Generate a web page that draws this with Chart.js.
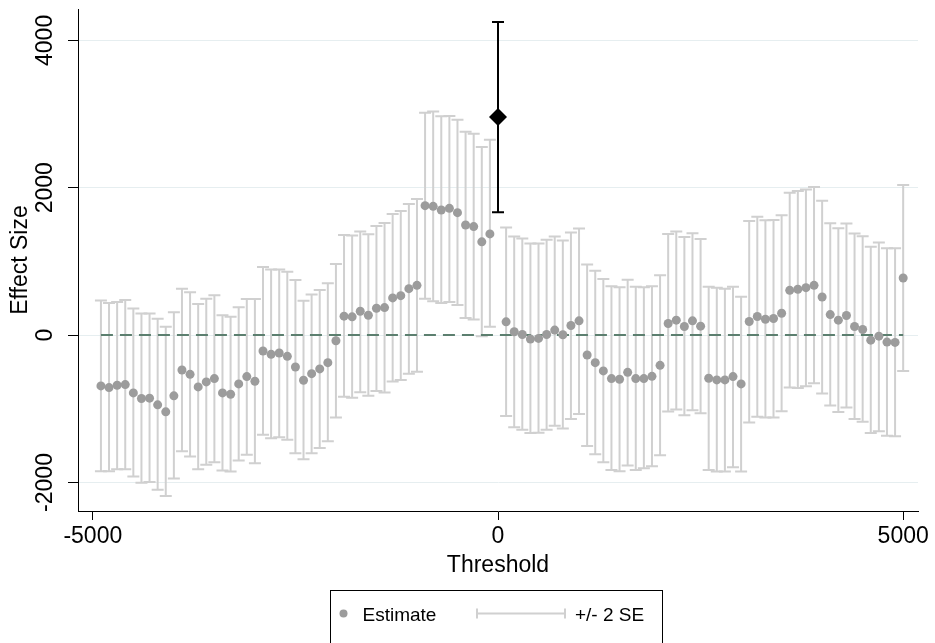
<!DOCTYPE html>
<html>
<head>
<meta charset="utf-8">
<script src="https://cdn.jsdelivr.net/npm/chart.js@4.4.1/dist/chart.umd.min.js"></script>
<style>
html,body{margin:0;padding:0;background:#fff;}
#wrap{width:935px;height:643px;position:relative;}
</style>
</head>
<body>
<div id="wrap"><canvas id="c"></canvas></div>
<script>
// ---------- data ----------
const thresholds = [
  -4900,-4800,-4700,-4600,-4500,-4400,-4300,-4200,-4100,-4000,
  -3900,-3800,-3700,-3600,-3500,-3400,-3300,-3200,-3100,-3000,
  -2900,-2800,-2700,-2600,-2500,-2400,-2300,-2200,-2100,-2000,
  -1900,-1800,-1700,-1600,-1500,-1400,-1300,-1200,-1100,-1000,
  -900,-800,-700,-600,-500,-400,-300,-200,-100,
  100,200,300,400,500,600,700,800,900,1000,
  1100,1200,1300,1400,1500,1600,1700,1800,1900,2000,
  2100,2200,2300,2400,2500,2600,2700,2800,2900,3000,
  3100,3200,3300,3400,3500,3600,3700,3800,3900,4000,
  4100,4200,4300,4400,4500,4600,4700,4800,4900,5000
];
const estimates = [
  -689,-712,-680,-671,-784,-860,-856,-946,-1041,-824,
  -473,-532,-703,-635,-590,-784,-802,-662,-563,-626,
  -216,-261,-243,-288,-432,-613,-523,-459,-374,-77,
  257,248,324,270,365,374,505,536,631,676,
  1757,1748,1698,1721,1662,1495,1473,1266,1374,
  180,45,9,-54,-45,9,68,5,131,194,
  -270,-374,-486,-590,-599,-505,-590,-590,-559,-410,
  158,203,117,194,122,-586,-608,-608,-563,-662,
  185,252,216,225,297,608,622,644,676,518,
  279,203,266,117,77,-68,-14,-95,-99,775
];
const upper = [
  469,437,450,477,360,293,293,221,113,311,
  631,581,423,495,540,270,248,378,491,491,
  923,892,892,860,748,468,550,613,703,964,
  1360,1351,1405,1369,1482,1523,1644,1685,1779,1847,
  3018,3036,2969,2973,2923,2761,2734,2554,2653,
  1459,1338,1311,1243,1243,1293,1338,1284,1392,1446,
  959,874,761,662,649,752,658,649,662,811,
  1374,1405,1333,1383,1306,658,644,631,658,522,
  1550,1608,1559,1563,1626,1932,1955,1977,2009,1824,
  1518,1450,1514,1378,1342,1198,1257,1180,1180,2036
];
const lower = [
  -1847,-1847,-1820,-1820,-1919,-2005,-1995,-2099,-2185,-1946,
  -1577,-1649,-1820,-1761,-1725,-1838,-1851,-1703,-1622,-1739,
  -1351,-1401,-1387,-1419,-1604,-1685,-1604,-1532,-1441,-1117,
  -838,-851,-775,-824,-757,-779,-631,-608,-523,-496,
  495,459,437,450,410,234,212,-14,113,
  -1099,-1252,-1284,-1329,-1324,-1284,-1230,-1266,-1140,-1072,
  -1505,-1617,-1725,-1829,-1847,-1770,-1829,-1806,-1779,-1631,
  -1036,-1009,-1086,-1018,-1059,-1829,-1851,-1851,-1793,-1851,
  -1185,-1108,-1117,-1117,-1032,-712,-716,-694,-653,-793,
  -955,-1045,-982,-1140,-1176,-1329,-1306,-1365,-1374,-486
];
const focalThreshold = [0];
const focalEstimate = [2959];
const focalUpper = [4248];
const focalLower = [1667];
const refLineX = [-4900, 5000];
const refLineY = [0, 0];
const xTicks = [-5000, 0, 5000];
const yTicks = [-2000, 0, 2000, 4000];
const xTickLabels = ['-5000', '0', '5000'];
const yTickLabels = ['-2000', '0', '2000', '4000'];
const seriesLabels = ['Estimate', '+/- 2 SE'];
const xTitle = 'Threshold';
const yTitle = 'Effect Size';

// ---------- styles ----------
const FONT = "'Liberation Sans', Arial, Helvetica, sans-serif";
const GREY_PT = '#9c9c9c';
const GREY_BAR = '#d0d0d0';
const REF_COLOR = '#5c7f6f';
Chart.defaults.font.family = FONT;
Chart.defaults.color = '#000';

const mainData = thresholds.map((x, i) => ({x: x, y: estimates[i], lo: lower[i], hi: upper[i]}));
const focalData = focalThreshold.map((x, i) => ({x: x, y: focalEstimate[i], lo: focalLower[i], hi: focalUpper[i]}));
const refData = refLineX.map((x, i) => ({x: x, y: refLineY[i]}));

const errorBarPlugin = {
  id: 'errorBars',
  beforeDatasetsDraw(chart) {
    const ctx = chart.ctx;
    const xs = chart.scales.x, ys = chart.scales.y;
    chart.data.datasets.forEach(ds => {
      if (!ds.errorBar) return;
      const eb = ds.errorBar;
      ctx.save();
      ctx.strokeStyle = eb.color;
      ctx.lineWidth = eb.width;
      ctx.lineCap = 'butt';
      ds.data.forEach(d => {
        const px = xs.getPixelForValue(d.x);
        const pHi = ys.getPixelForValue(d.hi);
        const pLo = ys.getPixelForValue(d.lo);
        ctx.beginPath();
        ctx.moveTo(px, pHi); ctx.lineTo(px, pLo);
        ctx.moveTo(px - eb.cap, pHi); ctx.lineTo(px + eb.cap, pHi);
        ctx.moveTo(px - eb.cap, pLo); ctx.lineTo(px + eb.cap, pLo);
        ctx.stroke();
      });
      ctx.restore();
    });
  }
};

const yLabelPlugin = {
  id: 'yLabels',
  afterDraw(chart) {
    const ctx = chart.ctx;
    const ys = chart.scales.y;
    ctx.save();
    ctx.fillStyle = '#000';
    ctx.font = '23px ' + FONT;
    ctx.textAlign = 'center';
    ctx.textBaseline = 'middle';
    yTicks.forEach((v, i) => {
      const py = ys.getPixelForValue(v);
      ctx.save();
      ctx.translate(46, py);
      ctx.rotate(-Math.PI / 2);
      ctx.fillText(yTickLabels[i], 0, 0);
      ctx.restore();
    });
    ctx.restore();
  }
};

const legendPlugin = {
  id: 'boxLegend',
  afterDraw(chart) {
    const ctx = chart.ctx;
    ctx.save();
    ctx.strokeStyle = '#000';
    ctx.lineWidth = 1;
    ctx.strokeRect(330.5, 590.5, 332, 80);
    const cy = 613.5;
    ctx.fillStyle = GREY_PT;
    ctx.beginPath();
    ctx.arc(343.5, cy, 4, 0, Math.PI * 2);
    ctx.fill();
    ctx.fillStyle = '#000';
    ctx.font = '19px ' + FONT;
    ctx.textAlign = 'left';
    ctx.textBaseline = 'alphabetic';
    ctx.fillText(seriesLabels[0], 362.5, 620.5);
    ctx.strokeStyle = GREY_BAR;
    ctx.lineWidth = 2;
    ctx.beginPath();
    ctx.moveTo(476, cy); ctx.lineTo(566, cy);
    ctx.moveTo(477, cy - 5); ctx.lineTo(477, cy + 5);
    ctx.moveTo(565, cy - 5); ctx.lineTo(565, cy + 5);
    ctx.stroke();
    ctx.fillText(seriesLabels[1], 575, 620.5);
    ctx.restore();
  }
};

new Chart(document.getElementById('c'), {
  type: 'scatter',
  data: {
    datasets: [
      {
        label: 'Focal',
        data: focalData,
        pointStyle: 'rectRot',
        pointRadius: 9,
        pointHoverRadius: 9,
        backgroundColor: '#000',
        borderColor: '#000',
        borderWidth: 0,
        errorBar: {color: '#000', width: 2, cap: 6},
        order: 0
      },
      {
        label: seriesLabels[0],
        data: mainData,
        pointStyle: 'circle',
        pointRadius: 4.5,
        pointHoverRadius: 4.5,
        backgroundColor: GREY_PT,
        borderWidth: 0,
        errorBar: {color: GREY_BAR, width: 2, cap: 6},
        order: 1
      },
      {
        label: 'ref',
        type: 'line',
        data: refData,
        borderColor: REF_COLOR,
        borderWidth: 2,
        borderDash: [12, 7],
        pointRadius: 0,
        fill: false,
        order: 2
      }
    ]
  },
  options: {
    responsive: true,
    maintainAspectRatio: false,
    animation: false,
    devicePixelRatio: 1,
    layout: {padding: {left: 0, top: 5, right: 17, bottom: 58}},
    plugins: {legend: {display: false}, tooltip: {enabled: false}},
    scales: {
      x: {
        type: 'linear',
        min: -5183,
        max: 5183,
        afterBuildTicks: s => { s.ticks = xTicks.map(v => ({value: v})); },
        afterFit: s => { s.height = 74; },
        grid: {drawOnChartArea: false, drawTicks: true, tickLength: 9, tickColor: '#000', tickWidth: 1},
        border: {display: true, color: '#000', width: 1},
        ticks: {
          autoSkip: false, maxRotation: 0, minRotation: 0, padding: 3,
          font: {size: 23}, color: '#000',
          callback: (v) => xTickLabels[xTicks.indexOf(v)]
        },
        title: {display: true, text: xTitle, font: {size: 23}, color: '#000', padding: {top: 0, bottom: 6}}
      },
      y: {
        type: 'linear',
        min: -2387,
        max: 4426,
        afterBuildTicks: s => { s.ticks = yTicks.map(v => ({value: v})); },
        afterFit: s => { s.width = 78; },
        grid: {color: '#e6eef0', lineWidth: 1, drawTicks: true, tickLength: 10, tickColor: '#000', tickWidth: 1},
        border: {display: true, color: '#000', width: 1},
        ticks: {display: false},
        title: {display: true, text: yTitle, font: {size: 23}, color: '#000', padding: {top: 7, bottom: 0}}
      }
    }
  },
  plugins: [errorBarPlugin, yLabelPlugin, legendPlugin]
});
</script>
</body>
</html>
